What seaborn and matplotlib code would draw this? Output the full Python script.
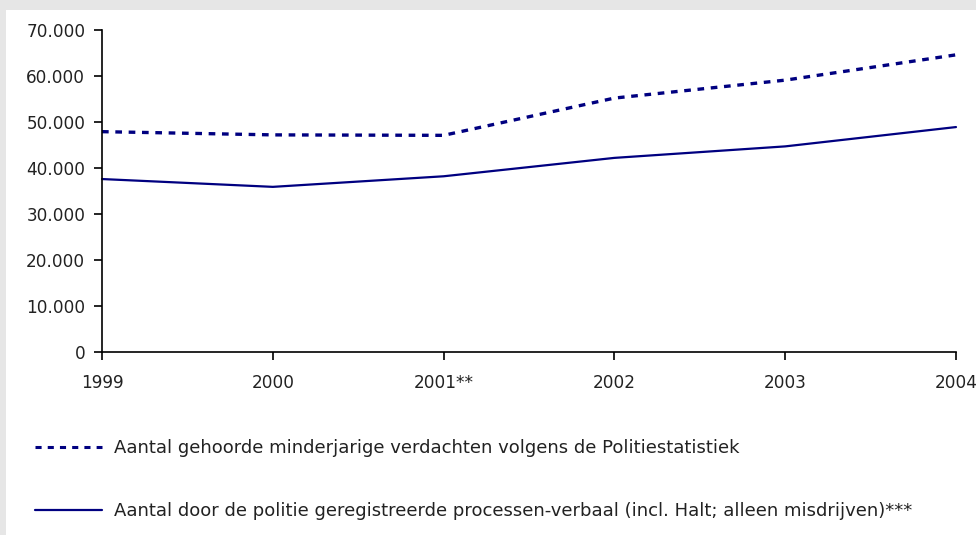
import matplotlib
matplotlib.use("Agg")
import matplotlib.pyplot as plt
from matplotlib.patches import Rectangle
from matplotlib.lines import Line2D
import seaborn as sns
import pandas as pd
import numpy as np

years = ["1999", "2000", "2001**", "2002", "2003", "2004"]
verdachten = [47900, 47200, 47100, 55200, 59100, 64600]
processen = [37600, 35900, 38200, 42200, 44700, 48900]
label_v = "Aantal gehoorde minderjarige verdachten volgens de Politiestatistiek"
label_p = "Aantal door de politie geregistreerde processen-verbaal (incl. Halt; alleen misdrijven)***"
yticks = [0, 10000, 20000, 30000, 40000, 50000, 60000, 70000]

def fmt(v):
    return f"{v:,}".replace(",", ".")

pos = np.arange(len(years))
df = pd.concat([
    pd.DataFrame({"pos": pos, "waarde": verdachten, "reeks": label_v}),
    pd.DataFrame({"pos": pos, "waarde": processen, "reeks": label_p}),
])

sns.set_theme(style="white")
plt.rcParams["font.family"] = ["DejaVu Sans"]
text_color = "#222222"
fs = 12.2
fs_leg = 13.0

fig = plt.figure(figsize=(9.76, 5.35), dpi=100)
fig.patch.set_facecolor("#e6e6e6")
bg = Rectangle((6 / 976, 0), 1, 1 - 10 / 535, transform=fig.transFigure,
               facecolor="white", edgecolor="none", zorder=-10)
fig.add_artist(bg)
ax = fig.add_axes([102 / 976, 1 - 352 / 535, (956 - 102) / 976, (352 - 30) / 535])
ax.set_facecolor("none")

sns.lineplot(data=df, x="pos", y="waarde", hue="reeks", style="reeks",
             palette=["#000080", "#000080"], dashes=[(2.0, 2.0), ""],
             ax=ax, legend=False)
lines = ax.get_lines()
lines[0].set_linewidth(2.4)
lines[1].set_linewidth(1.6)
for l in lines:
    l.set_clip_on(False)

ax.set_xlim(0, len(years) - 1)
ax.set_ylim(0, 70000)
ax.set_xticks(pos)
ax.set_xticklabels(years)
ax.set_yticks(yticks)
ax.set_yticklabels([fmt(v) for v in yticks])
ax.set_xlabel("")
ax.set_ylabel("")
for s in ["top", "right"]:
    ax.spines[s].set_visible(False)
for s in ["left", "bottom"]:
    ax.spines[s].set_color("black")
    ax.spines[s].set_linewidth(1.2)
ax.tick_params(axis="both", direction="out", length=6, width=1.2, color="black",
               labelsize=fs, labelcolor=text_color, pad=6, bottom=True, left=True)
ax.tick_params(axis="x", pad=10)

handles = [Line2D([], [], color="#000080", lw=2.2, dashes=(2.0, 2.0)),
           Line2D([], [], color="#000080", lw=1.6)]
leg = fig.legend(handles, [label_v, label_p], loc="upper left",
                 bbox_to_anchor=(35 / 976, 1 - 439 / 535), frameon=False,
                 fontsize=fs_leg, handlelength=3.7, handletextpad=0.7,
                 labelspacing=2.52, borderpad=0, borderaxespad=0)
for t in leg.get_texts():
    t.set_color(text_color)

fig.savefig("out.png", dpi=100, facecolor=fig.get_facecolor())
